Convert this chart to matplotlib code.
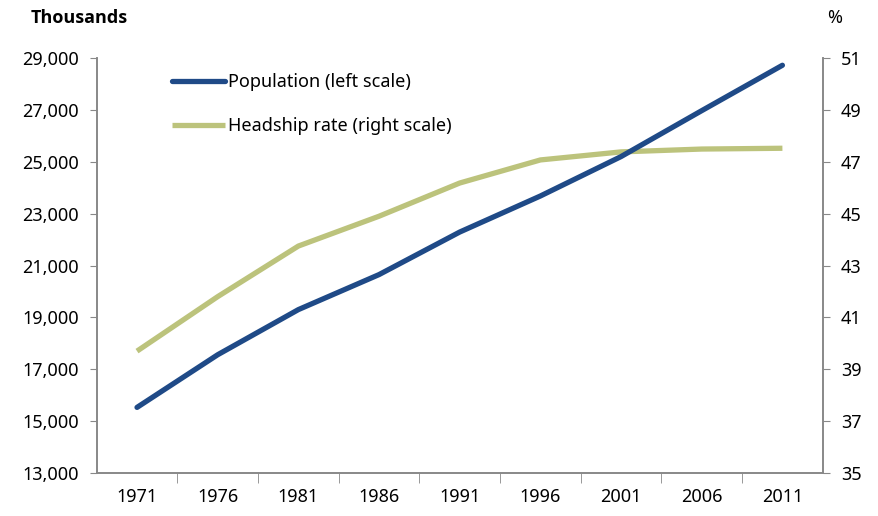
import matplotlib.pyplot as plt
from matplotlib.ticker import FuncFormatter, FixedLocator

plt.rcParams['font.family'] = ['Noto Sans', 'DejaVu Sans']

years = ['1971', '1976', '1981', '1986', '1991', '1996', '2001', '2006', '2011']
population = [15530, 17560, 19300, 20650, 22290, 23680, 25200, 26970, 28720]
headship = [39.7, 41.8, 43.75, 44.9, 46.18, 47.07, 47.38, 47.49, 47.52]

pop_col = '#1F4A87'
head_col = '#BCC37C'
spine_col = '#888888'

fig = plt.figure(figsize=(8.79, 5.16), dpi=100)
ax = fig.add_axes([0.110, 0.0833, 0.826, 0.8043])
ax2 = ax.twinx()

x = list(range(len(years)))
ax.plot(x, population, color=pop_col, lw=3.8, solid_capstyle='round', label='Population (left scale)', zorder=3)
ax2.plot(x, headship, color=head_col, lw=3.8, solid_capstyle='butt', label='Headship rate (right scale)')
ax.set_zorder(ax2.get_zorder() + 1)
ax.patch.set_visible(False)

ax.set_xlim(-0.5, len(years) - 0.5)
ax.set_ylim(13000, 29000)
ax2.set_ylim(35, 51)
ax.set_yticks(range(13000, 29001, 2000))
ax2.set_yticks(range(35, 52, 2))
ax.yaxis.set_major_formatter(FuncFormatter(lambda v, p: '{:,.0f}'.format(v)))

ax.set_xticks(x)
ax.set_xticklabels(years)
ax.xaxis.set_minor_locator(FixedLocator([i + 0.5 for i in x[:-1]]))
ax.tick_params(axis='x', which='major', length=0, labelsize=13, pad=11)
ax.tick_params(axis='x', which='minor', length=7, color=spine_col, direction='out')
ax.tick_params(axis='y', length=5, color=spine_col, labelsize=13, pad=8)
ax2.tick_params(axis='y', length=5, color=spine_col, labelsize=13, pad=8)

for a in (ax, ax2):
    a.spines['top'].set_visible(False)
    for s in ('left', 'right', 'bottom'):
        a.spines[s].set_color(spine_col)
        a.spines[s].set_linewidth(1.2)

h1, l1 = ax.get_legend_handles_labels()
h2, l2 = ax2.get_legend_handles_labels()
leg = ax.legend(h1 + h2, l1 + l2, loc='upper left', bbox_to_anchor=(0.082, 1.003),
                frameon=False, fontsize=13, handlelength=2.9, handletextpad=0.15,
                labelspacing=1.43)

fig.text(0.035, 0.965, 'Thousands', fontsize=13, fontweight='bold', va='center', ha='left',
         family=['Open Sans', 'DejaVu Sans'])
fig.text(0.950, 0.965, '%', fontsize=13, va='center', ha='center')

plt.savefig('out.png', dpi=100)
